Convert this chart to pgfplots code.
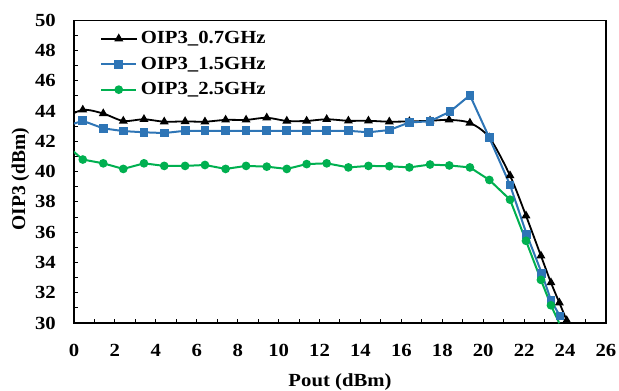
\documentclass[border=0pt]{standalone}
\usepackage{fontspec}
\setmainfont{Liberation Serif}[FakeStretch=1.12]
\newfontfamily\ylfont{Liberation Serif}
\usepackage{pgfplots}
\pgfplotsset{compat=1.18}
\definecolor{cBlue}{HTML}{2E75B6}
\definecolor{cGreen}{HTML}{00B050}
\newcommand\lbl{\bfseries\fontsize{18.5}{22}\selectfont}
\begin{document}
\begin{tikzpicture}
\useasboundingbox (-74pt,-68pt) rectangle (545pt,323pt);
\begin{axis}[
  at={(0pt,0pt)}, anchor=south west,
  scale only axis, width=532pt, height=302.7pt,
  xmin=0, xmax=26, ymin=30, ymax=50,
  xtick={0,2,...,26}, minor xtick={1,3,...,25},
  ytick={30,32,...,50}, minor ytick={31,33,...,49},
  tick align=inside, xtick pos=bottom, ytick pos=left,
  major tick length=4pt, minor tick length=4pt,
  every tick/.style={black, line width=1pt},
  axis line style={line width=1.2pt},
  /pgf/number format/assume math mode=true,
  tick label style={font=\lbl},
  xticklabel style={anchor=base, yshift=-33.3pt},
  yticklabel style={anchor=east, inner sep=0pt, xshift=-18pt},
  xlabel={Pout (dBm)},
  ylabel={\ylfont\bfseries\fontsize{19.5}{22}\selectfont OIP3 (dBm)},
  xlabel style={font=\lbl, at={(axis description cs:0.5,-0.2114)}, anchor=base},
  ylabel style={at={(axis description cs:-0.092,0.475)}, anchor=base},
  legend style={draw=none, fill=none, font=\lbl, at={(axis description cs:0.049,0.973)}, anchor=north west,
    inner sep=0pt, row sep=5.5pt, nodes={text height=13pt, text depth=3pt, inner sep=2pt},
    /tikz/every odd column/.append style={column sep=1.5pt}},
  legend cell align=left,
  legend image code/.code={\draw[#1, mark indices={2}] plot coordinates {(0pt,0pt) (17.5pt,0pt) (35pt,0pt)};},
]
\addplot[black, line width=1.8pt, smooth, mark=triangle*, mark size=3.4pt, mark options={solid}, mark indices={1,...,27}]
coordinates {
(-0.57,43.48) (0.43,44.08) (1.43,43.84) (2.41,43.35) (3.42,43.46) (4.41,43.30) (5.43,43.32) (6.40,43.30)
(7.41,43.42) (8.41,43.42) (9.42,43.56) (10.40,43.35) (11.37,43.35) (12.35,43.46) (13.41,43.36) (14.39,43.36)
(15.41,43.30) (16.39,43.32) (17.40,43.36) (18.33,43.42) (19.35,43.22) (20.30,42.25) (21.31,39.74)
(22.09,37.09) (22.82,34.44) (23.31,32.67) (23.72,31.34) (24.08,30.17)
};
\addlegendentry{OIP3\_0.7GHz}
\addplot[cBlue, line width=2pt, mark=square*, mark size=3.4pt, mark indices={1,...,26}]
coordinates {
(-0.57,42.93) (0.43,43.36) (1.43,42.86) (2.41,42.68) (3.42,42.60) (4.41,42.55) (5.43,42.70) (6.40,42.70)
(7.41,42.70) (8.41,42.70) (9.42,42.70) (10.40,42.70) (11.37,42.70) (12.35,42.70) (13.41,42.70) (14.39,42.60)
(15.41,42.75) (16.39,43.25) (17.40,43.33) (18.38,43.97) (19.35,45.05) (20.30,42.23) (21.31,39.12)
(22.12,35.87) (22.86,33.29) (23.31,31.50) (23.75,30.46)
};
\addlegendentry{OIP3\_1.5GHz}
\addplot[cGreen, line width=2pt, mark=*, mark size=3.3pt, mark indices={1,...,26}]
coordinates {
(-0.57,41.97) (0.43,40.80) (1.43,40.55) (2.41,40.18) (3.42,40.55) (4.41,40.38) (5.43,40.38) (6.40,40.44)
(7.41,40.18) (8.41,40.38) (9.42,40.33) (10.40,40.18) (11.37,40.50) (12.35,40.55) (13.41,40.28) (14.39,40.38)
(15.41,40.36) (16.39,40.28) (17.40,40.47) (18.34,40.41) (19.35,40.28) (20.30,39.45) (21.31,38.15)
(22.09,35.43) (22.82,32.85) (23.31,31.17) (23.72,29.98)
};
\addlegendentry{OIP3\_2.5GHz}
\end{axis}
\end{tikzpicture}
\end{document}
